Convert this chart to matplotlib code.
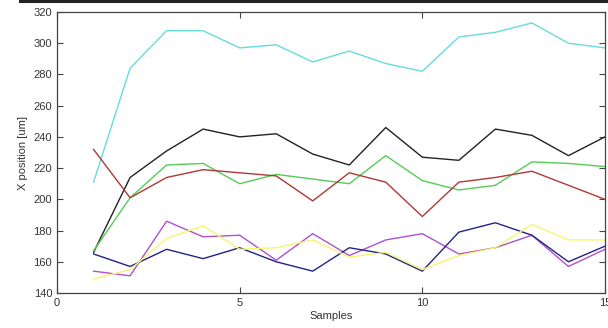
import matplotlib
matplotlib.use("Agg")
import matplotlib.pyplot as plt
from matplotlib.lines import Line2D

plt.rcParams['font.family'] = ['Liberation Sans', 'DejaVu Sans']

samples = list(range(1, 16))

cyan = [211, 284, 308, 308, 297, 299, 288, 295, 287, 282, 304, 307, 313, 300, 297]
black = [166, 214, 231, 245, 240, 242, 229, 222, 246, 227, 225, 245, 241, 228, 240]
green = [167, 201, 222, 223, 210, 216, 213, 210, 228, 212, 206, 209, 224, 223, 221]
red = [232, 201, 214, 219, 217, 215, 199, 217, 211, 189, 211, 214, 218, 209, 200]
magenta = [154, 151, 186, 176, 177, 161, 178, 164, 174, 178, 165, 169, 177, 157, 168]
blue = [165, 157, 168, 162, 169, 160, 154, 169, 165, 154, 179, 185, 177, 160, 170]
yellow = [149, 155, 175, 183, 168, 169, 174, 163, 166, 155, 164, 169, 184, 174, 174]

series = [
    (cyan, "#66dcdc"),
    (black, "#222222"),
    (green, "#55cc55"),
    (red, "#b03838"),
    (magenta, "#b050d0"),
    (blue, "#22228a"),
    (yellow, "#f5f570"),
]

fig = plt.figure(figsize=(6.08, 3.28), dpi=100)
ax = fig.add_axes([0.0938, 0.1067, 0.9012, 0.8567])

for vals, col in series:
    ax.plot(samples, vals, color=col, linewidth=1.0)

ax.set_xlim(0, 15)
ax.set_ylim(140, 320)
ax.set_xticks([0, 5, 10, 15])
ax.set_yticks(range(140, 321, 20))
ax.tick_params(direction="in", top=True, right=True, labelsize=8,
               length=4, width=0.8, colors="#444444", labelcolor="#333333")
for s in ax.spines.values():
    s.set_color("#444444")
    s.set_linewidth(0.9)

ax.set_xlabel("Samples", fontsize=8, labelpad=2, color="#333333")
ax.set_ylabel("X position [um]", fontsize=8, labelpad=4, color="#333333")

# dark strip along the top edge of the picture
fig.add_artist(Line2D([0.033, 1.0], [0.997, 0.997], color="#222222",
                      linewidth=2.2, transform=fig.transFigure))

fig.savefig("out.png", dpi=100)
